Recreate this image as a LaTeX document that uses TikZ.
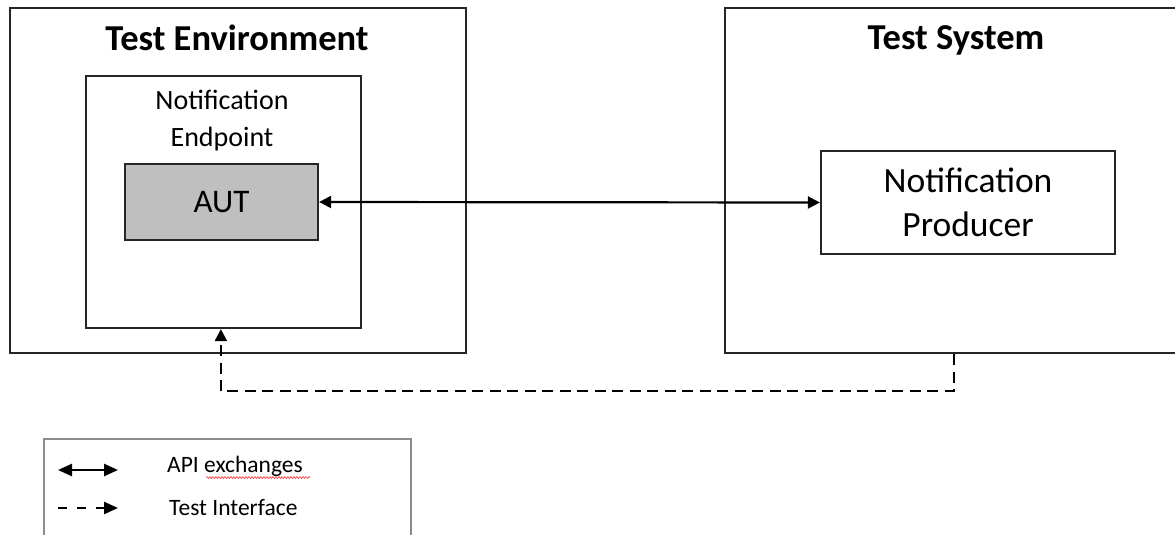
\documentclass[tikz,border=0pt]{standalone}
\usepackage{fontspec}
\setmainfont{Carlito}
\usetikzlibrary{arrows.meta,decorations.pathmorphing}
\begin{document}
\begin{tikzpicture}[x=1pt,y=-1pt,
  box/.style={draw=black!85,line width=2.2pt,rectangle,inner sep=0pt},
  conn/.style={line width=2.2pt,{Triangle[length=12pt,width=12pt]}-{Triangle[length=12pt,width=12pt]}},
  testif/.style={line width=2.2pt,dash pattern=on 11pt off 6.5pt,-{Triangle[length=12pt,width=12pt]}},
  title/.style={font=\fontsize{36.5}{42}\selectfont\bfseries},
  lbl/.style={font=\fontsize{23.5}{28}\selectfont,anchor=base west,inner sep=0pt}]
\clip (0,0) rectangle (1175,535);
\useasboundingbox (0,0) rectangle (1175,535);
% boxes
\node[box,minimum width=456pt,minimum height=345pt] (env) at (238,180.5) {};
\node[box,minimum width=470pt,minimum height=345pt] (sys) at (960,180.5) {};
\node[title] (envt) at (237,38) {Test Environment};
\node[title,anchor=base] (syst) at (956,49) {Test System};
\node[box,minimum width=275pt,minimum height=252pt] (ep) at (223.5,202) {};
\node[font=\fontsize{28}{37}\selectfont,align=center] (ept) at (222,121) {Notification\\Endpoint};
\node[box,fill=black!25,minimum width=193pt,minimum height=76pt,font=\fontsize{33}{40}\selectfont] (aut) at (221.5,202) {AUT};
\node[box,minimum width=294pt,minimum height=103pt,align=center,font=\fontsize{35.5}{44}\selectfont] (prod) at (968,202.5) {Notification\\Producer};
% connectors
\draw[conn] (aut.east) -- (prod.west);
\draw[testif] ([xshift=230pt]sys.south west) -- ++(0,37) -| ([xshift=136pt]ep.south west);
% legend
\node[draw=black!45,line width=1.4pt,minimum width=367pt,minimum height=120pt,inner sep=0pt] (leg) at (227.5,499) {};
\coordinate (l1a) at (58,470);
\coordinate (l1b) at (118,470);
\coordinate (l2a) at (58,508);
\coordinate (l2b) at (118,508);
\draw[line width=2.4pt,{Triangle[length=14pt,width=12pt]}-{Triangle[length=14pt,width=12pt]}] (l1a) -- (l1b);
\draw[line width=2.4pt,dash pattern=on 9pt off 10pt,-{Triangle[length=14pt,width=12pt]}] (l2a) -- (l2b);
\node[lbl] (api) at (167,472) {API exchanges};
\node[lbl] (ti) at (169,515) {Test Interface};
\draw[red!80,line width=0.6pt,decorate,decoration={snake,amplitude=1pt,segment length=3pt}] (206,477.5) -- (310,477.5);
\end{tikzpicture}
\end{document}
